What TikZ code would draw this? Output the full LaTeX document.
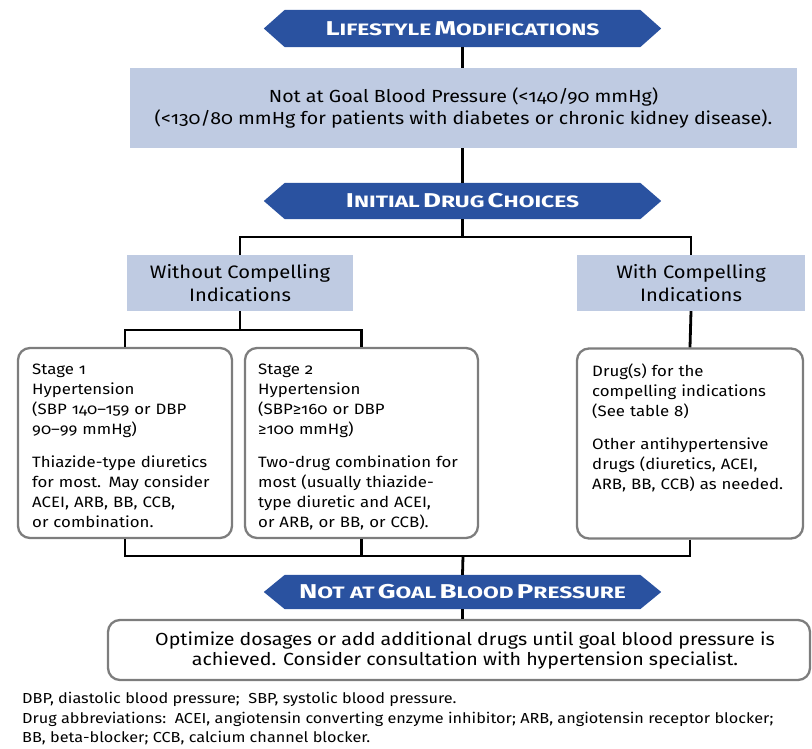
\documentclass[tikz,border=0pt]{standalone}
\usepackage{fontspec}
\setmainfont{Fira Sans}[FakeStretch=1.12,Numbers=OldStyle]
\newfontfamily\bannerfont{Fira Sans}[FakeStretch=1.38,BoldFont={* Bold}]
\usetikzlibrary{backgrounds}
\definecolor{bannerblue}{RGB}{42,82,160}
\definecolor{paleblue}{RGB}{191,203,226}
\definecolor{framegray}{RGB}{125,125,125}
\newcommand\SCw[2]{{\fontsize{20}{20}\selectfont #1}{\fontsize{16.5}{16.5}\selectfont #2}}
\newcommand\bannerfill[1]{%
  \begin{scope}[on background layer]
    \fill[bannerblue] ([xshift=-21pt]#1.west) -- (#1.north west) -- (#1.north east)
      -- ([xshift=21pt]#1.east) -- (#1.south east) -- (#1.south west) -- cycle;
  \end{scope}}
\begin{document}
\begin{tikzpicture}[x=1pt,y=-1pt,
  banner/.style={minimum width=355pt,inner sep=0pt,text=white,font=\bannerfont\bfseries},
  wire/.style={line width=2.8pt,black},
  pale/.style={fill=paleblue,inner sep=0pt,align=center},
  frame/.style={draw=framegray,line width=2.3pt,rounded corners=12pt,inner sep=0pt},
  body/.style={anchor=north west,inner sep=0pt,align=left,text width=215pt,font=\fontsize{15}{20}\selectfont}]
\useasboundingbox (0,0) rectangle (812,748);

% banners
\node[banner,minimum height=37pt] (b1) at (462.5,28.5) {\SCw{L}{IFESTYLE} \SCw{M}{ODIFICATIONS}};
\bannerfill{b1}
\node[banner,minimum height=36pt] (b2) at (462.5,201) {\SCw{I}{NITIAL} \SCw{D}{RUG} \SCw{C}{HOICES}};
\bannerfill{b2}
\node[banner,minimum height=34pt] (b3) at (462.5,592) {\SCw{N}{OT AT} \SCw{G}{OAL} \SCw{B}{LOOD} \SCw{P}{RESSURE}};
\bannerfill{b3}

% pale boxes
\node[pale,minimum width=667pt,minimum height=80pt,font=\fontsize{17.5}{22}\selectfont] (goal) at (463.5,108)
  {Not at Goal Blood Pressure (<140/90 mmHg)\\(<130/80 mmHg for patients with diabetes or chronic kidney disease).};
\node[pale,minimum width=226pt,minimum height=56pt,font=\fontsize{18}{23}\selectfont] (without) at (240,283)
  {Without Compelling\\Indications};
\node[pale,minimum width=228pt,minimum height=56pt,font=\fontsize{18}{23}\selectfont] (with) at (691,283)
  {With Compelling\\Indications};

% framed boxes
\node[frame,minimum width=214pt,minimum height=190pt] (s1) at (125,443) {};
\node[frame,minimum width=233pt,minimum height=190pt] (s2) at (361.5,443) {};
\node[frame,minimum width=226pt,minimum height=190pt] (drug) at (690,443.5) {};
\node[frame,minimum width=702pt,minimum height=60pt] (final) at (459,650) {};
\node[align=center,inner sep=0pt,font=\fontsize{17.5}{20}\selectfont] (finalt) at (465,651)
  {Optimize dosages or add additional drugs until goal blood pressure is\\achieved. Consider consultation with hypertension specialist.};

\node[body] (s1t) at (32,364)
  {Stage 1\\Hypertension\\(SBP 140–159 or DBP\\90–99 mmHg)\\[13pt]Thiazide-type diuretics\\for most. May consider\\ACEI, ARB, BB, CCB,\\or combination.};
\node[body] (s2t) at (258,364)
  {Stage 2\\Hypertension\\(SBP≥160 or DBP\\≥100 mmHg)\\[13pt]Two-drug combination for\\most (usually thiazide-\\type diuretic and ACEI,\\or ARB, or BB, or CCB).};
\node[body] (drugt) at (592,364)
  {Drug(s) for the\\compelling indications\\(See table 8)\\[13pt]Other antihypertensive\\drugs (diuretics, ACEI,\\ARB, BB, CCB) as needed.};

% footnote
\node[anchor=north west,inner sep=0pt,align=left,font=\fontsize{14.5}{19.5}\selectfont] (notes) at (22,692)
  {DBP, diastolic blood pressure;\ \ SBP, systolic blood pressure.\\
   Drug abbreviations:\ \ ACEI, angiotensin converting enzyme inhibitor; ARB, angiotensin receptor blocker;\\
   BB, beta-blocker; CCB, calcium channel blocker.};

% connectors
\coordinate (j1) at (462.5,237);
\coordinate (j2) at (240,330);
\coordinate (j3) at (463,556);
\draw[wire] (b1.south) -- (goal.north -| b1.south);
\draw[wire] (goal.south -| b2.north) -- (b2.north);
\draw[wire] (b2.south) -- (j1);
\draw[wire] (without.north) |- (j1) -| (with.north);
\draw[wire] (without.south) -- (j2);
\draw[wire] (s1.north) |- (j2) -| (s2.north);
\draw[wire] (with.south) -- (drug.north);
\draw[wire] (s1.south) |- (j3);
\draw[wire] (s2.south) |- (j3);
\draw[wire] (drug.south) |- (j3);
\draw[wire] (j3) -- (b3.north);
\draw[wire] (b3.south) -- (final.north -| b3.south);
\end{tikzpicture}
\end{document}
